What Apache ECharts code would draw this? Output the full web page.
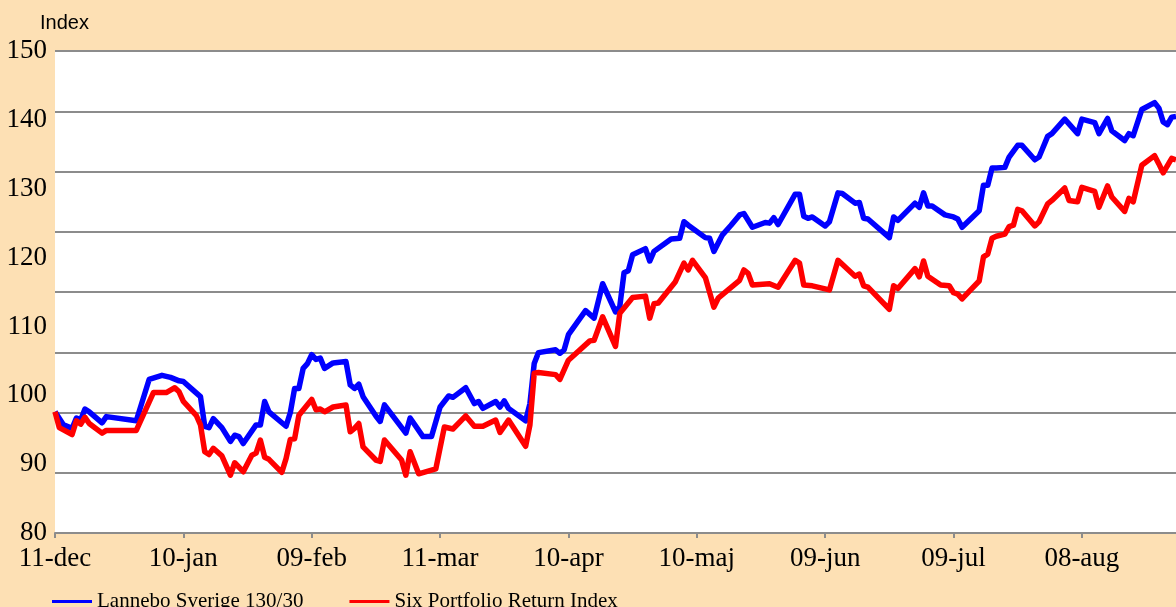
<!DOCTYPE html>
<html>
<head>
<meta charset="utf-8">
<script src="https://cdn.jsdelivr.net/npm/echarts@6/dist/echarts.min.js"></script>
<style>
  html, body { margin: 0; padding: 0; background: #FDE0B4; }
  #chart { width: 1176px; height: 607px; }
</style>
</head>
<body>
<div id="chart"></div>
<script>
// x = days since 11-dec, tick every 30 days
var tickLabels = ['11-dec', '10-jan', '09-feb', '11-mar', '10-apr', '10-maj', '09-jun', '09-jul', '08-aug'];
var seriesNames = ['Lannebo Sverige 130/30', 'Six Portfolio Return Index'];

var lannebo = [
  [0,97.6],[2,95.7],[4,95.2],[5,96.7],[6,96.4],[7,98.0],[8,97.6],[11,96.0],[12,96.9],[19,96.3],
  [22,102.3],[25,102.9],[27,102.6],[29,102.1],[30,102.0],[32,100.9],[34,99.8],[35,95.5],[36,95.3],[37,96.6],
  [39,95.3],[41,93.3],[42,94.2],[43,94.0],[44,93.0],[47,95.7],[48,95.7],[49,99.1],[50,97.6],[54,95.5],
  [55,97.5],[56,101.0],[57,101.0],[58,103.9],[59,104.6],[60,105.9],[61,105.2],[62,105.4],[63,103.9],[65,104.7],
  [68,104.9],[69,101.5],[70,101.0],[71,101.6],[72,99.8],[75,97.0],[76,96.2],[77,98.6],[82,94.5],[83,96.7],
  [86,94.0],[88,94.0],[90,98.3],[92,99.9],[93,99.7],[96,101.1],[98,98.8],[99,99.1],[100,98.1],[103,99.1],
  [104,98.3],[105,99.2],[106,98.1],[110,96.3],[111,98.8],[112,104.6],[113,106.2],[117,106.6],[118,106.1],[119,106.6],
  [120,108.8],[124,112.3],[126,111.2],[128,116.2],[131,112.1],[132,112.9],[133,117.8],[134,118.1],[135,120.4],[138,121.3],
  [139,119.5],[140,120.9],[144,122.7],[146,122.8],[147,125.2],[148,124.7],[152,122.9],[153,122.8],[154,120.9],[156,123.3],
  [158,124.7],[160,126.2],[161,126.4],[163,124.4],[166,125.1],[167,125.0],[168,125.8],[169,124.8],[173,129.2],[174,129.2],
  [175,126.0],[176,125.7],[177,125.9],[180,124.6],[181,125.2],[183,129.4],[184,129.3],[187,127.9],[188,128.0],[189,125.7],
  [190,125.6],[195,122.9],[196,125.9],[197,125.4],[201,127.9],[202,127.3],[203,129.4],[204,127.5],[205,127.5],[208,126.2],
  [210,125.9],[211,125.6],[212,124.4],[216,126.8],[217,130.5],[218,130.5],[219,133.0],[220,133.0],[222,133.1],[223,134.6],
  [225,136.3],[226,136.3],[229,134.2],[230,134.6],[232,137.6],[233,138.0],[236,140.1],[239,138.0],[240,140.1],[243,139.6],
  [244,138.0],[246,140.2],[247,138.4],[250,137.0],[251,138.0],[252,137.7],[254,141.5],[257,142.5],[258,141.7],[259,139.7],
  [260,139.3],[261,140.4],[262,140.5]
];

var sixIndex = [
  [0,97.6],[1,95.3],[4,94.3],[5,96.3],[6,95.8],[7,96.8],[8,95.9],[11,94.5],[12,94.9],[19,94.9],
  [23,100.4],[26,100.4],[28,101.1],[29,100.5],[30,99.1],[33,97.1],[34,95.7],[35,91.8],[36,91.4],[37,92.3],
  [39,91.2],[41,88.4],[42,90.2],[44,88.9],[46,91.3],[47,91.6],[48,93.5],[49,91.0],[50,90.7],[53,88.8],
  [54,90.8],[55,93.6],[56,93.7],[57,97.1],[60,99.4],[61,97.9],[62,98.0],[63,97.6],[65,98.3],[68,98.6],
  [69,94.7],[70,95.2],[71,95.9],[72,92.5],[75,90.6],[76,90.4],[77,93.5],[81,90.6],[82,88.4],[83,91.8],
  [85,88.6],[89,89.3],[91,95.4],[93,95.1],[96,97.0],[98,95.5],[100,95.5],[103,96.4],[104,94.6],[106,96.4],
  [110,92.6],[111,95.7],[112,103.2],[113,103.3],[117,103.0],[118,102.3],[120,105.1],[125,107.9],[126,108.0],[128,111.4],
  [131,107.1],[132,111.9],[135,114.2],[138,114.4],[139,111.2],[140,113.3],[141,113.4],[145,116.5],[147,119.2],[148,118.2],
  [149,119.6],[152,117.1],[154,112.8],[155,114.1],[160,116.7],[161,118.2],[162,117.7],[163,116.0],[167,116.2],[169,115.7],
  [173,119.6],[174,119.2],[175,116.0],[177,115.9],[181,115.3],[183,119.6],[187,117.3],[188,117.6],[189,115.9],[190,115.7],
  [195,112.5],[196,115.9],[197,115.5],[201,118.4],[202,117.2],[203,119.5],[204,117.3],[207,116.0],[209,115.9],[210,114.9],
  [211,114.7],[212,114.0],[214,115.3],[216,116.6],[217,120.1],[218,120.5],[219,122.8],[220,123.1],[222,123.4],[223,124.5],
  [224,124.7],[225,127.0],[226,126.8],[229,124.6],[230,125.2],[232,127.8],[233,128.3],[236,130.1],[237,128.3],[239,128.1],
  [240,130.2],[243,129.6],[244,127.3],[246,130.4],[247,128.8],[250,126.7],[251,128.6],[252,128.1],[254,133.4],[257,134.8],
  [258,133.6],[259,132.3],[261,134.4],[262,134.2]
];

var chart = echarts.init(document.getElementById('chart'));
var serif = '"Liberation Serif", "Times New Roman", serif';

var option = {
  animation: false,
  backgroundColor: '#FDE0B4',
  title: {
    text: 'Index',
    left: 35,
    top: 8,
    textStyle: { fontFamily: '"Liberation Sans", Arial, sans-serif', fontSize: 20, fontWeight: 'normal', color: '#000' }
  },
  legend: {
    left: 47,
    top: 586,
    itemWidth: 40,
    itemHeight: 3,
    itemGap: 46,
    icon: 'rect',
    textStyle: { fontFamily: serif, fontSize: 21, color: '#000' },
    data: seriesNames
  },
  grid: {
    left: 55, right: 0, top: 51, bottom: 74,
    show: true, backgroundColor: '#fff', borderWidth: 0
  },
  xAxis: {
    type: 'value',
    min: 0,
    max: 262,
    interval: 30,
    axisLine: { lineStyle: { color: '#8c8c8c', width: 2 } },
    axisTick: { show: true, length: 5, lineStyle: { color: '#8c8c8c', width: 2 } },
    axisLabel: {
      margin: 12,
      showMaxLabel: false,
      fontFamily: serif, fontSize: 27, color: '#000',
      formatter: function (v) { return tickLabels[Math.round(v / 30)] || ''; }
    },
    splitLine: { show: false }
  },
  yAxis: [
    {
      type: 'value',
      min: 80, max: 150, interval: 10,
      axisLine: { show: false },
      axisTick: { show: false },
      splitLine: { show: false },
      axisLabel: { margin: 8, fontFamily: serif, fontSize: 27, color: '#000' }
    },
    {
      // grid lines of the original sit at eighths of the plot height
      type: 'value',
      min: 0, max: 8, interval: 1,
      position: 'left',
      axisLine: { show: false },
      axisTick: { show: false },
      axisLabel: { show: false },
      splitLine: { show: true, lineStyle: { color: '#8c8c8c', width: 2 } }
    }
  ],
  series: [
    {
      name: seriesNames[0],
      type: 'line',
      yAxisIndex: 0,
      data: lannebo,
      showSymbol: false,
      color: '#0000FF',
      lineStyle: { width: 5.5, color: '#0000FF', join: 'round' }
    },
    {
      name: seriesNames[1],
      type: 'line',
      yAxisIndex: 0,
      data: sixIndex,
      showSymbol: false,
      color: '#FF0000',
      lineStyle: { width: 5.5, color: '#FF0000', join: 'round' }
    }
  ]
};
chart.setOption(option);
</script>
</body>
</html>
